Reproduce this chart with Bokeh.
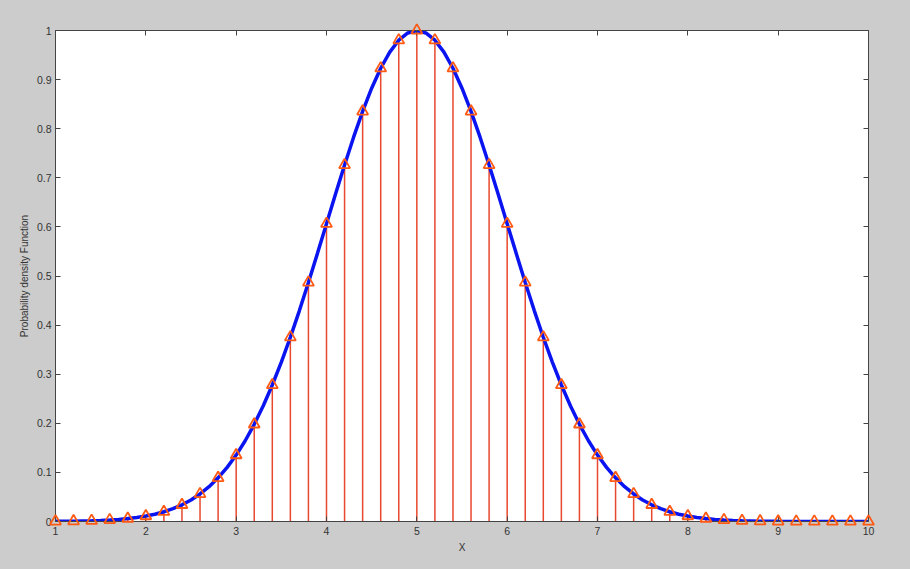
import numpy as np
from bokeh.plotting import figure
from bokeh.models import LinearAxis, FixedTicker, Range1d
from bokeh.embed import file_html
from bokeh.resources import INLINE

# stem sample positions and values
stem_x = [1.0, 1.2, 1.4, 1.6, 1.8, 2.0, 2.2, 2.4, 2.6, 2.8, 3.0, 3.2, 3.4, 3.6, 3.8,
          4.0, 4.2, 4.4, 4.6, 4.8, 5.0, 5.2, 5.4, 5.6, 5.8, 6.0, 6.2, 6.4, 6.6, 6.8,
          7.0, 7.2, 7.4, 7.6, 7.8, 8.0, 8.2, 8.4, 8.6, 8.8, 9.0, 9.2, 9.4, 9.6, 9.8, 10.0]
stem_y = [0.0003, 0.0007, 0.0015, 0.0031, 0.0060, 0.0111, 0.0198, 0.0340, 0.0561, 0.0889,
          0.1353, 0.1979, 0.2780, 0.3753, 0.4868, 0.6065, 0.7261, 0.8353, 0.9231, 0.9802,
          1.0000,
          0.9802, 0.9231, 0.8353, 0.7261, 0.6065, 0.4868, 0.3753, 0.2780, 0.1979, 0.1353,
          0.0889, 0.0561, 0.0340, 0.0198, 0.0111, 0.0060, 0.0031, 0.0015, 0.0007, 0.0003,
          0.0001, 0.0001, 0.0000, 0.0000, 0.0000]

# smooth curve (0.1 step)
curve_x = [round(1.0 + 0.1 * i, 1) for i in range(91)]
curve_y = [0.0003, 0.0005, 0.0007, 0.0011, 0.0015, 0.0022, 0.0031, 0.0043, 0.0060, 0.0082,
           0.0111, 0.0149, 0.0198, 0.0261, 0.0340, 0.0439, 0.0561, 0.0710, 0.0889, 0.1103,
           0.1353, 0.1645, 0.1979, 0.2357, 0.2780, 0.3247, 0.3753, 0.4296, 0.4868, 0.5461,
           0.6065, 0.6670, 0.7261, 0.7827, 0.8353, 0.8825, 0.9231, 0.9560, 0.9802, 0.9950,
           1.0000,
           0.9950, 0.9802, 0.9560, 0.9231, 0.8825, 0.8353, 0.7827, 0.7261, 0.6670, 0.6065,
           0.5461, 0.4868, 0.4296, 0.3753, 0.3247, 0.2780, 0.2357, 0.1979, 0.1645, 0.1353,
           0.1103, 0.0889, 0.0710, 0.0561, 0.0439, 0.0340, 0.0261, 0.0198, 0.0149, 0.0111,
           0.0082, 0.0060, 0.0043, 0.0031, 0.0022, 0.0015, 0.0011, 0.0007, 0.0005, 0.0003,
           0.0002, 0.0001, 0.0001, 0.0001, 0.0000, 0.0000, 0.0000, 0.0000, 0.0000, 0.0000]

x_ticks = [1, 2, 3, 4, 5, 6, 7, 8, 9, 10]
y_ticks = [0, 0.1, 0.2, 0.3, 0.4, 0.5, 0.6, 0.7, 0.8, 0.9, 1]
y_tick_labels = {0: "0", 0.1: "0.1", 0.2: "0.2", 0.3: "0.3", 0.4: "0.4", 0.5: "0.5",
                 0.6: "0.6", 0.7: "0.7", 0.8: "0.8", 0.9: "0.9", 1: "1"}

BG = "#cccccc"
AX = "#444444"
FONT = "Liberation Sans"

p = figure(width=902, height=561, output_backend="svg", toolbar_location=None,
           x_range=Range1d(1, 10), y_range=Range1d(0, 1),
           background_fill_color="white", border_fill_color=BG,
           min_border_left=55, min_border_right=34, min_border_top=30, min_border_bottom=40)
p.grid.visible = False
p.outline_line_color = "#777777"
p.outline_line_width = 1

# stems
p.segment(x0=stem_x, y0=[0] * len(stem_x), x1=stem_x, y1=stem_y,
          line_color="#e8482e", line_width=1.5)
# curve
p.line(curve_x, curve_y, line_color="#0a14f0", line_width=3.5)
# markers
p.scatter(stem_x, stem_y, marker="triangle", size=11, fill_color=None,
          line_color="#ff5a14", line_width=1.8, level="overlay")

for ax in (p.xaxis[0], p.yaxis[0]):
    ax.major_tick_in = 5
    ax.major_tick_out = 0
    ax.minor_tick_line_color = None
    ax.axis_line_color = AX
    ax.major_tick_line_color = AX
    ax.major_label_text_font = FONT
    ax.major_label_text_font_size = "10.5px"
    ax.major_label_text_color = "#333333"
    ax.axis_label_text_font = FONT
    ax.axis_label_text_font_size = "10px"
    ax.axis_label_text_font_style = "normal"
    ax.axis_label_text_color = "#333333"

p.xaxis[0].ticker = FixedTicker(ticks=x_ticks)
p.yaxis[0].ticker = FixedTicker(ticks=y_ticks)
p.yaxis[0].major_label_overrides = y_tick_labels
p.xaxis[0].axis_label = "X"
p.yaxis[0].axis_label = "Probability density Function"
p.xaxis[0].major_label_standoff = 5
p.yaxis[0].major_label_standoff = 4
p.xaxis[0].axis_label_standoff = 4
p.yaxis[0].axis_label_standoff = 4

top = LinearAxis(ticker=FixedTicker(ticks=x_ticks), major_tick_in=5, major_tick_out=0,
                 minor_tick_line_color=None,
                 major_label_overrides={t: "" for t in x_ticks},
                 axis_line_color=AX, major_tick_line_color=AX)
right = LinearAxis(ticker=FixedTicker(ticks=y_ticks), major_tick_in=5, major_tick_out=0,
                   minor_tick_line_color=None,
                   major_label_overrides={t: "" for t in y_ticks},
                   axis_line_color=AX, major_tick_line_color=AX)
p.add_layout(top, "above")
p.add_layout(right, "right")

html = file_html(p, INLINE)
html = html.replace("<head>", "<head><style>body{background:%s;}</style>" % BG, 1)
open("out.html", "w").write(html)
